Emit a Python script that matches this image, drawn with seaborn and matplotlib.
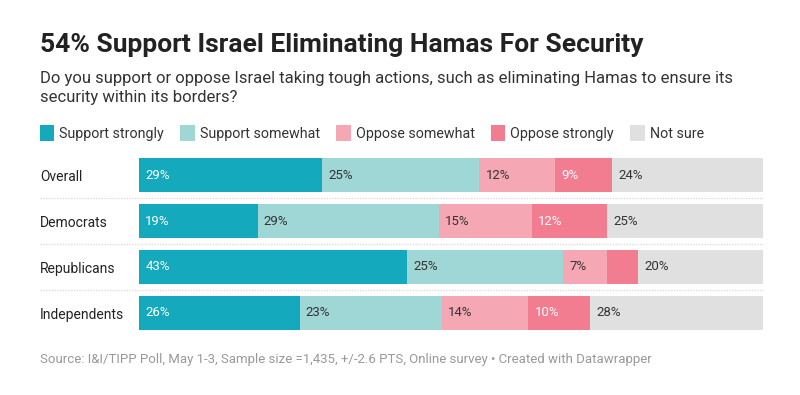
import matplotlib
matplotlib.use("Agg")
import matplotlib.pyplot as plt
import seaborn as sns
import pandas as pd
import numpy as np
from matplotlib.patches import Patch

groups = ["Overall", "Democrats", "Republicans", "Independents"]
series = ["Support strongly", "Support somewhat", "Oppose somewhat", "Oppose strongly", "Not sure"]
support_strongly = [29, 19, 43, 26]
support_somewhat = [25, 29, 25, 23]
oppose_somewhat = [12, 15, 7, 14]
oppose_strongly = [9, 12, 5, 10]
not_sure = [24, 25, 20, 28]
colors = ["#14a9bc", "#9fd6d6", "#f5a8b4", "#f27c90", "#e0e0e0"]
label_colors = ["white", "#333333", "#333333", "white", "#333333"]

title = "54% Support Israel Eliminating Hamas For Security"
subtitle = ("Do you support or oppose Israel taking tough actions, such as eliminating Hamas to ensure its\n"
            "security within its borders?")
source = "Source: I&I/TIPP Poll, May 1-3, Sample size =1,435, +/-2.6 PTS, Online survey \u2022 Created with Datawrapper"

sns.set_theme(style="white")
plt.rcParams["font.family"] = ["Roboto", "DejaVu Sans"]

vals = np.array([support_strongly, support_somewhat, oppose_somewhat, oppose_strongly, not_sure], dtype=float)
totals = vals.sum(axis=0)
shares = vals / totals * 100
cum = np.cumsum(shares, axis=0)
starts = cum - shares

W, H = 800, 395
fig = plt.figure(figsize=(W / 100, H / 100), dpi=100)
fig.patch.set_facecolor("white")
ax = fig.add_axes([139 / W, 1 - 336 / H, 624 / W, 184 / H])

for i in range(len(series) - 1, -1, -1):
    df = pd.DataFrame({"group": groups, "value": cum[i]})
    sns.barplot(data=df, y="group", x="value", order=groups, color=colors[i],
                orient="h", width=0.74, saturation=1, ax=ax, linewidth=0)

for i in range(len(series)):
    for j in range(len(groups)):
        if vals[i, j] >= 6:
            ax.text(starts[i, j] + 1.0, j, f"{int(vals[i, j])}%", va="center", ha="left",
                    fontsize=9.5, color=label_colors[i])

ax.set_xlim(0, 100)
ax.set_ylim(3.5, -0.5)
ax.set_xlabel("")
ax.set_ylabel("")
ax.set_xticks([])
for s in ax.spines.values():
    s.set_visible(False)
ax.tick_params(axis="y", length=0, pad=99 * 0.72)
for lab in ax.get_yticklabels():
    lab.set_horizontalalignment("left")
    lab.set_fontsize(10)
    lab.set_color("#222222")

for y in [0.5, 1.5, 2.5]:
    ax.axhline(y, xmin=-99 / 624, xmax=1, color="#dddddd", lw=1, ls=(0, (1, 1)), clip_on=False)

fig.text(40 / W, 1 - 45 / H, title, fontsize=19, fontweight="bold", color="#222222", va="center", ha="left")
fig.text(40 / W, 1 - 88 / H, subtitle, fontsize=12, color="#333333", va="center", ha="left", linespacing=1.3)
fig.text(40 / W, 1 - 360 / H, source, fontsize=9.5, color="#999999", va="center", ha="left")

handles = [Patch(facecolor=c, edgecolor="none", label=s) for c, s in zip(colors, series)]
fig.legend(handles=handles, loc="center left", bbox_to_anchor=(27 / W, 1 - 133 / H), ncol=5,
           frameon=False, fontsize=10.3, handlelength=1.0, handleheight=1.3, handletextpad=0.35,
           columnspacing=1.15, labelcolor="#333333")

fig.savefig("out.png", dpi=100, facecolor="white")
